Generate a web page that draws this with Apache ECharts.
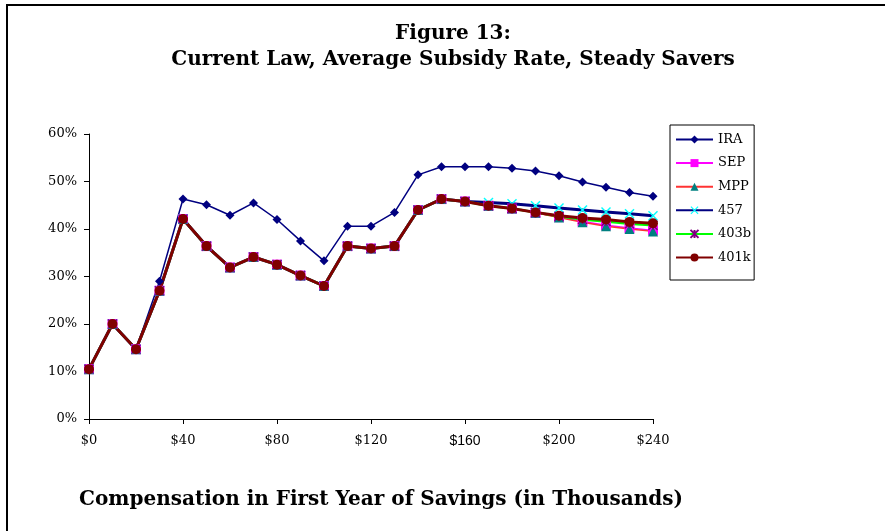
<!DOCTYPE html>
<html>
<head>
<meta charset="utf-8">
<script src="https://cdn.jsdelivr.net/npm/echarts@6/dist/echarts.min.js"></script>
<style>
html,body{margin:0;padding:0;background:#fff;}
#chart{width:885px;height:531px;}
</style>
</head>
<body>
<div id="chart"></div>
<script>
// Compensation in first year of savings (thousands of dollars)
var compensation = [0,10,20,30,40,50,60,70,80,90,100,110,120,130,140,150,160,170,180,190,200,210,220,230,240];
// Average subsidy rate (%)
var ira   = [10.5,20.0,14.7,29.0,46.3,45.1,42.9,45.5,42.0,37.5,33.3,40.6,40.6,43.5,51.4,53.1,53.1,53.1,52.8,52.2,51.2,49.9,48.8,47.7,46.9];
var sep   = [10.5,20.0,14.7,27.0,42.1,36.4,31.9,34.1,32.5,30.2,28.0,36.4,35.9,36.4,44.0,46.3,45.8,44.9,44.3,43.4,42.5,41.6,40.8,40.2,39.7];
var mpp   = [10.5,20.0,14.7,27.0,42.1,36.4,31.9,34.1,32.5,30.2,28.0,36.4,35.9,36.4,44.0,46.3,45.8,44.9,44.3,43.4,42.4,41.4,40.6,40.0,39.5];
var s457  = [10.5,20.0,14.7,27.0,42.1,36.4,31.9,34.1,32.5,30.2,28.0,36.4,35.9,36.4,44.0,46.3,45.8,45.6,45.3,44.9,44.4,44.0,43.6,43.2,42.8];
var s403b = [10.5,20.0,14.7,27.0,42.1,36.4,31.9,34.1,32.5,30.2,28.0,36.4,35.9,36.4,44.0,46.3,45.8,44.9,44.3,43.5,42.7,42.0,41.6,41.1,40.8];
var s401k = [10.5,20.0,14.7,27.0,42.1,36.4,31.9,34.1,32.5,30.2,28.0,36.4,35.9,36.4,44.0,46.3,45.8,44.9,44.3,43.5,42.8,42.3,42.0,41.5,41.2];
var seriesNames = ['IRA','SEP','MPP','457','403b','401k'];
var xTicks = [0,40,80,120,160,200,240];
var yTicks = [0,10,20,30,40,50,60];

function pairs(vals){ return compensation.map(function(c,i){ return [c, vals[i]]; }); }

var serif = '"DejaVu Serif", serif';
var crossPath = 'path://M0,1 L1,0 L5,4 L9,0 L10,1 L6,5 L10,9 L9,10 L5,6 L1,10 L0,9 L4,5 Z';
var starPath = 'path://M0,0 L10,10 M10,0 L0,10 M5,0 L5,10';

var chart = echarts.init(document.getElementById('chart'), null, {renderer:'canvas'});
chart.setOption({
  animation:false,
  backgroundColor:'#fff',
  grid:{left:89, top:134, width:564, height:285, containLabel:false},
  graphic:[
    {type:'line', shape:{x1:7,y1:5,x2:885,y2:5}, style:{stroke:'#000',lineWidth:2}},
    {type:'line', shape:{x1:7,y1:4,x2:7,y2:531}, style:{stroke:'#000',lineWidth:2}},
    {type:'text', x:453, y:34, style:{text:'Figure 13:', font:'bold 20px '+serif, fill:'#000', textAlign:'center', textVerticalAlign:'middle'}},
    {type:'text', x:453, y:60, style:{text:'Current Law, Average Subsidy Rate, Steady Savers', font:'bold 20px '+serif, fill:'#000', textAlign:'center', textVerticalAlign:'middle'}},
    {type:'text', x:381, y:500, style:{text:'Compensation in First Year of Savings (in Thousands)', font:'bold 20px '+serif, fill:'#000', textAlign:'center', textVerticalAlign:'middle'}}
  ],
  legend:{
    orient:'vertical', left:670, top:125,
    padding:[8,3,16,5],
    itemWidth:37, itemHeight:10, itemGap:10.6,
    borderColor:'#000', borderWidth:1,
    backgroundColor:'#fff',
    textStyle:{fontFamily:serif, fontSize:13, color:'#000', lineHeight:12},
    data:seriesNames
  },
  xAxis:{
    type:'value', min:0, max:240, interval:40,
    axisLine:{lineStyle:{color:'#000',width:1}},
    axisTick:{show:true, length:5, lineStyle:{color:'#000'}},
    splitLine:{show:false},
    axisLabel:{
      margin:15, fontFamily:serif, fontSize:13, color:'#000',
      formatter:function(v){ return v===160 ? '{s|$160}' : '$'+v; },
      rich:{s:{fontFamily:'"Liberation Sans", Arial, sans-serif', fontSize:14, color:'#000', padding:[0,0,5,0]}}
    }
  },
  yAxis:{
    type:'value', min:0, max:60, interval:10,
    axisLine:{show:true, lineStyle:{color:'#000',width:1}},
    axisTick:{show:true, length:5, lineStyle:{color:'#000'}},
    splitLine:{show:false},
    axisLabel:{margin:12, fontFamily:serif, fontSize:13, color:'#000', formatter:function(v){return v+'%';}}
  },
  series:[
    {name:'IRA', type:'line', data:pairs(ira), symbol:'diamond', symbolSize:9,
     lineStyle:{color:'#000080', width:1.5}, itemStyle:{color:'#000080'}},
    {name:'SEP', type:'line', data:pairs(sep), symbol:'rect', symbolSize:10,
     lineStyle:{color:'#FF00FF', width:1.5}, itemStyle:{color:'#FF00FF'}},
    {name:'MPP', type:'line', data:pairs(mpp), symbol:'triangle', symbolSize:10,
     lineStyle:{color:'#FF3333', width:1.5}, itemStyle:{color:'#008080'}},
    {name:'457', type:'line', data:pairs(s457), symbol:crossPath, symbolSize:10,
     lineStyle:{color:'#000080', width:3}, itemStyle:{color:'#00FFFF'}},
    {name:'403b', type:'line', data:pairs(s403b), symbol:starPath, symbolSize:9,
     lineStyle:{color:'#00FF00', width:2.5}, itemStyle:{color:'#800080', borderColor:'#800080', borderWidth:1.5}},
    {name:'401k', type:'line', data:pairs(s401k), symbol:'circle', symbolSize:10,
     lineStyle:{color:'#800000', width:3}, itemStyle:{color:'#800000'}}
  ]
});
</script>
</body>
</html>
